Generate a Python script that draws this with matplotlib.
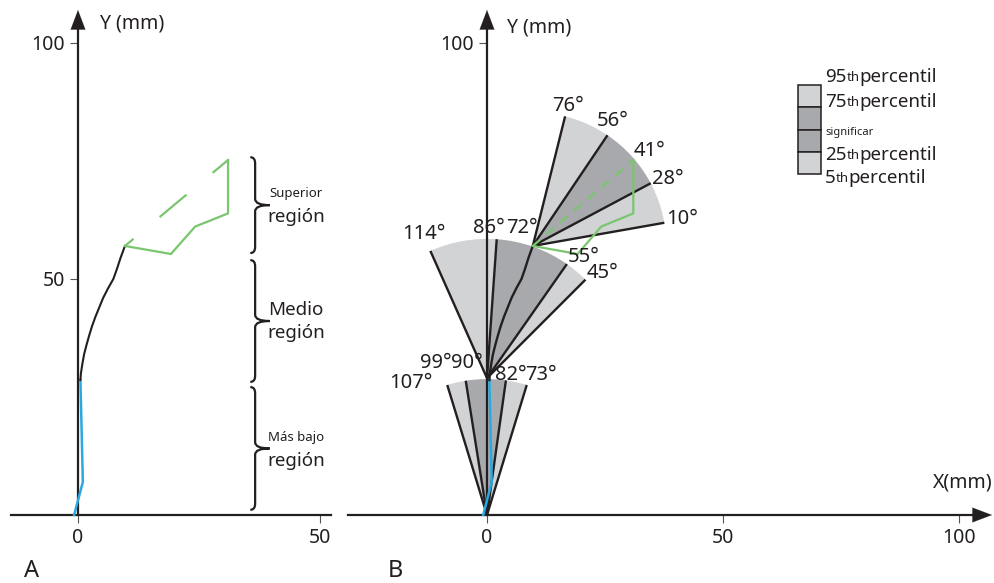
import numpy as np
import matplotlib
matplotlib.use('Agg')
import matplotlib.pyplot as plt
from matplotlib.patches import Wedge, Rectangle, PathPatch
from matplotlib.path import Path

plt.rcParams['font.family'] = ['Noto Sans', 'DejaVu Sans']
plt.rcParams['lines.scale_dashes'] = False

# mean trajectory pieces (mm)
blue_x = [-0.8, 1.0, 0.5]
blue_y = [0.0, 7.0, 28.6]
mean_x = [0.5, 0.6, 0.9, 1.25, 1.75, 2.3, 2.9, 3.6, 4.4, 5.2, 6.2, 7.3, 8.0, 8.8, 9.7]
mean_y = [28.6, 30.0, 32.0, 34.0, 36.0, 38.0, 40.0, 42.0, 44.0, 46.0, 48.0, 50.0, 52.0, 54.5, 57.0]
green_x = [9.7, 19.2, 24.2, 31.0, 31.0]
green_y = [57.0, 55.3, 61.1, 63.9, 75.2]

# regions (panel A braces)
region_names = ["Más bajo", "Medio", "Superior"]
region_lo = [1.1, 28.2, 55.5]
region_hi = [27.1, 54.0, 75.8]

# angle fans (panel B): 95th, 75th, mean, 25th, 5th
fan_ox = [0.0, 0.0, 9.7]
fan_oy = [0.0, 29.0, 57.0]
fan_r = [28.8, 29.5, 28.3]
fan_angles = [[107, 99, 90, 82, 73],
              [114, 86, 72, 55, 45],
              [76, 56, 41, 28, 10]]

legend_num = ["95", "75", None, "25", "5"]

INK = '#231f20'
LIGHT = '#d1d3d4'
DARK = '#a7a9ac'
GREEN = '#7ac66e'
BLUE = '#2aa8df'

W, H = 995, 583
fig = plt.figure(figsize=(W / 100, H / 100), dpi=100)


def make_axes(left, right, x0, sx, y0, sy):
    ax = fig.add_axes([left / W, 0, (right - left) / W, 1])
    ax.set_xlim((left - x0) / sx, (right - x0) / sx)
    ax.set_ylim((y0 - H) / sy, y0 / sy)
    return ax


def style(ax, xb, yb, xt, yt, x_arrow):
    ax.patch.set_visible(False)
    ax.spines['top'].set_visible(False)
    ax.spines['right'].set_visible(False)
    for s in ['left', 'bottom']:
        ax.spines[s].set_position(('data', 0))
        ax.spines[s].set_linewidth(1.6)
        ax.spines[s].set_color(INK)
    ax.spines['bottom'].set_bounds(*xb)
    ax.spines['left'].set_bounds(*yb)
    ax.set_xticks(xt)
    ax.set_yticks(yt)
    ax.tick_params(direction='out', length=5.5, width=0.8, color='#555555',
                   labelsize=14, pad=4, labelcolor=INK)
    ap = dict(arrowstyle='-|>,head_length=14,head_width=5.3', mutation_scale=1,
              fc=INK, ec=INK, lw=0.1, shrinkA=0, shrinkB=0)
    ax.annotate('', xy=(0, yb[1] + 2.5), xytext=(0, yb[1] - 3), arrowprops=ap)
    if x_arrow:
        ax.annotate('', xy=(xb[1] + 2.5, 0), xytext=(xb[1] - 3, 0), arrowprops=ap)


def brace(ax, x, y0, y1, c=1.0, t=3.0, cy=1.3):
    ym = (y0 + y1) / 2
    verts = [(x - c, y1), (x, y1), (x, y1 - cy), (x, ym + cy), (x, ym), (x + t, ym),
             (x, ym), (x, ym - cy), (x, y0 + cy), (x, y0), (x - c, y0)]
    codes = [Path.MOVETO, Path.CURVE3, Path.CURVE3, Path.LINETO, Path.CURVE3, Path.CURVE3,
             Path.CURVE3, Path.CURVE3, Path.LINETO, Path.CURVE3, Path.CURVE3]
    ax.add_patch(PathPatch(Path(verts, codes), fc='none', ec=INK, lw=1.6))
    return ym


# ---------------- panel A ----------------
axA = make_axes(0, 340, 78, 4.84, 515, 4.72)
style(axA, (-13.8, 52.3), (0, 104.5), [0, 50], [50, 100], False)
axA.plot(blue_x, blue_y, color=BLUE, lw=1.8, zorder=4)
axA.plot(mean_x, mean_y, color=INK, lw=1.5, zorder=4)
axA.plot(green_x, green_y, color=GREEN, lw=1.6, zorder=4)
axA.plot([green_x[-1], green_x[0]], [green_y[-1], green_y[0]], color=GREEN, lw=1.6,
         dashes=(14.4, 24.5, 25.2, 24.5), zorder=4)
axA.text(4.5, 104.2, "Y (mm)", fontsize=14, color=INK, va='center', ha='left')

for name, lo, hi in zip(region_names, region_lo, region_hi):
    ym = brace(axA, 36.6, lo, hi)
    big = name == "Medio"
    axA.text(45.0, ym + 2.4, name, fontsize=13.5 if big else 9.5, color=INK,
             ha='center', va='center')
    axA.text(45.0, ym - 2.6, "región", fontsize=13.5, color=INK, ha='center', va='center')

# ---------------- panel B ----------------
axB = make_axes(340, 995, 487, 4.72, 515, 4.72)
style(axB, (-29.4, 104.5), (0, 104.5), [0, 50, 100], [100], True)
axB.text(4.2, 103.2, "Y (mm)", fontsize=14, color=INK, va='center', ha='left')
axB.text(100.7, 6.8, "X(mm)", fontsize=14, color=INK, va='center', ha='center')

label_nudge = [[(-36.7, -2), (-30, -17.7), (-20, -16), (5, -5.3), (14, -10)],
               [(-6.4, -16.8), (-7.5, -11.4), (-8, -17.9), (17.2, -6.8), (16.6, -6.4)],
               [(2.5, -10.4), (5.3, -14.2), (15.5, -7.3), (17, -4.3), (17.7, -3.8)]]

for ox, oy, r, ang, nudge in zip(fan_ox, fan_oy, fan_r, fan_angles, label_nudge):
    for a0, a1, col in [(ang[1], ang[0], LIGHT), (ang[3], ang[1], DARK), (ang[4], ang[3], LIGHT)]:
        axB.add_patch(Wedge((ox, oy), r, a0, a1, fc=col, ec='none', zorder=1))
    for i in [0, 1, 3, 4]:
        th = np.radians(ang[i])
        axB.plot([ox, ox + r * np.cos(th)], [oy, oy + r * np.sin(th)], color=INK, lw=1.7,
                 solid_capstyle='butt', zorder=3)
    for a, (dx, dy) in zip(ang, nudge):
        th = np.radians(a)
        axB.annotate(f"{a}°", xy=(ox + r * np.cos(th), oy + r * np.sin(th)),
                     xytext=(dx * 0.72, -dy * 0.72), textcoords='offset points',
                     ha='center', va='center', fontsize=14.5, color=INK, zorder=5)

axB.plot(blue_x, blue_y, color=BLUE, lw=1.8, zorder=4)
axB.plot(mean_x, mean_y, color=INK, lw=1.7, zorder=4)
axB.plot(green_x, green_y, color=GREEN, lw=1.6, zorder=4)
axB.plot([green_x[0], green_x[-1]], [green_y[0], green_y[-1]], color=GREEN, lw=1.6,
         dashes=(7.2, 5.8), zorder=4)

# legend boxes
lx0, lx1 = (798 - 487) / 4.72, (821 - 487) / 4.72
edges = [(515 - p) / 4.72 for p in [85, 107, 130, 152, 174]]
for k, col in enumerate([LIGHT, DARK, DARK, LIGHT]):
    axB.add_patch(Rectangle((lx0, edges[k + 1]), lx1 - lx0, edges[k] - edges[k + 1],
                            fc=col, ec=INK, lw=1.1, zorder=2))

tx = (825 - 487) / 4.72
legend_rows = [77, 102, 133, 155, 178]
for num, row in zip(legend_num, legend_rows):
    ty = (515 - row) / 4.72
    if num is None:
        axB.text(tx, ty, "significar", fontsize=8, color=INK, va='center', ha='left')
        continue
    t1 = axB.text(tx, ty, num, fontsize=13.5, color=INK, va='center', ha='left')
    t2 = axB.annotate("th", xy=(1, 0), xycoords=t1, xytext=(0, 1.1),
                      textcoords='offset points', fontsize=9.5, color=INK,
                      va='bottom', ha='left')
    axB.annotate("percentil", xy=(1, 0), xycoords=t2, xytext=(0, -1.1),
                 textcoords='offset points', fontsize=13.5, color=INK,
                 va='bottom', ha='left')

fig.text(24 / W, 0, "A", fontsize=17, color=INK, ha='left', va='bottom')
fig.text(388 / W, 0, "B", fontsize=17, color=INK, ha='left', va='bottom')

fig.savefig('out.png', dpi=100)
